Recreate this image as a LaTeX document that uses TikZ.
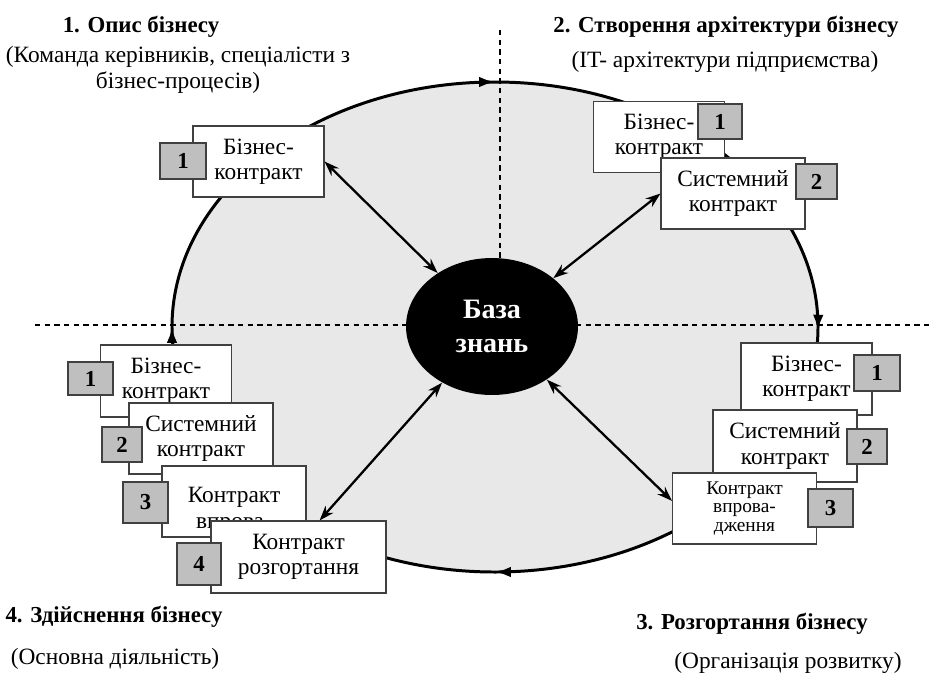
\documentclass[tikz,border=0pt]{standalone}
\usepackage{fontspec}
\setmainfont{Liberation Serif}
\usetikzlibrary{arrows.meta,shapes.geometric,decorations.markings}

\begin{document}
\begin{tikzpicture}[
    x=0.02cm, y=-0.02cm,
    font=\fontsize{13.3}{14.5}\selectfont,
    card/.style={draw=black!75, fill=white, line width=0.6pt, align=center, inner sep=1pt,
                 minimum width=2.62cm, minimum height=1.42cm},
    widecard/.style={card, minimum width=2.88cm},
    num/.style={draw=black!75, fill=black!25, line width=0.6pt, inner sep=0pt,
                font=\fontsize{13}{14.5}\selectfont\bfseries, minimum width=0.88cm, minimum height=0.7cm},
    head/.style={font=\fontsize{13}{14.5}\selectfont\bfseries},
    link/.style={{Stealth[length=8.5pt,width=6pt]}-{Stealth[length=8.5pt,width=6pt]}, line width=1.3pt},
    axis/.style={dash pattern=on 3pt off 2.5pt, line width=0.6pt},
    ring/.style={line width=1.7pt, postaction={decorate}, decoration={markings,
        mark=at position 0.002 with {\arrow{Latex[length=9pt,width=6pt]}},
        mark=at position 0.25 with {\arrow{Latex[length=9pt,width=6pt]}},
        mark=at position 0.5 with {\arrow{Latex[length=9pt,width=6pt]}},
        mark=at position 0.75 with {\arrow{Latex[length=9pt,width=6pt]}}}}
]
\useasboundingbox (0,0) rectangle (933,677);

% cycle of the stages
\fill[black!9] (495,327) ellipse [x radius=323, y radius=245];
\draw[axis] (35,325) -- (930,325);
\draw[axis] (500,30) -- (500,326);
\draw[ring] (495,327) ellipse [x radius=323, y radius=245];

% 1. top left
\node[card] (tl1) at (258.5,161.5) {Бізнес-\\контракт};
\node[num, minimum width=0.92cm, minimum height=0.72cm] (tln1) at (183,161) {1};

% 2. top right
\node[card] (tr1) at (659,137) {Бізнес-\\контракт};
\node[num] (trn1) at (720,121.5) {1};
\node[widecard] (tr2) at (733,193.5) {Системний\\контракт};
\node[num, minimum width=0.82cm] (trn2) at (816.5,181.5) {2};

% 3. bottom right
\node[card, minimum height=1.44cm] (br1) at (806.5,379) {Бізнес-\\контракт};
\node[num, minimum width=0.92cm, minimum height=0.72cm] (brn1) at (877,373) {1};
\node[widecard, minimum height=1.44cm] (br2) at (785,446) {Системний\\контракт};
\node[num, minimum width=0.8cm] (brn2) at (867,446.5) {2};
\node[widecard, font=\fontsize{11}{10.6}\selectfont] (br3) at (744.5,508.5) {Контракт\\впрова-\\дження};
\node[num, minimum width=0.9cm, minimum height=0.76cm] (brn3) at (830.5,508) {3};

% 4. bottom left
\node[card, minimum height=1.44cm] (bl1) at (166,381) {Бізнес-\\контракт};
\node[num, minimum width=0.9cm, minimum height=0.66cm] (bln1) at (90.5,378.5) {1};
\node[widecard] (bl2) at (201,438.5) {Системний\\контракт};
\node[num, minimum width=0.8cm] (bln2) at (122,444.5) {2};
\node[widecard] (bl3) at (234,501.5) {\rule{0pt}{19pt}Контракт\\впрова-};
\node[num, minimum width=0.9cm, minimum height=0.82cm] (bln3) at (145.5,502.5) {3};
\node[card, minimum width=3.5cm, minimum height=1.44cm] (bl4) at (298.5,557) {Контракт\\розгортання};
\node[num, minimum width=0.88cm, minimum height=0.84cm] (bln4) at (199,564) {4};

% knowledge base
\node[ellipse, fill=black, inner sep=0pt, minimum width=3.44cm, minimum height=2.74cm,
      text=white, align=center, font=\fontsize{16}{19}\selectfont\bfseries] (kb) at (492,326.5) {База\\знань};

\draw[link] (tl1.east) -- (kb);
\draw[link] (tr2.west) -- (kb);
\draw[link] (bl4.60) -- (kb);
\draw[link] (kb) -- (br3.174);

% stage titles
\node[head] (t1) at (141,27) {1. Опис бізнесу};
\node[align=center] (s1) at (178,70) {(Команда керівників, спеціалісти з\\бізнес-процесів)};
\node[head] (t2) at (726,27) {2. Створення архітектури бізнесу};
\node (s2) at (725,62) {(IT- архітектури підприємства)};
\node[head] (t3) at (752,624) {3. Розгортання бізнесу};
\node (s3) at (788,663) {(Організація розвитку)};
\node[head] (t4) at (114,617) {4. Здійснення бізнесу};
\node (s4) at (115,659) {(Основна діяльність)};
\end{tikzpicture}
\end{document}
